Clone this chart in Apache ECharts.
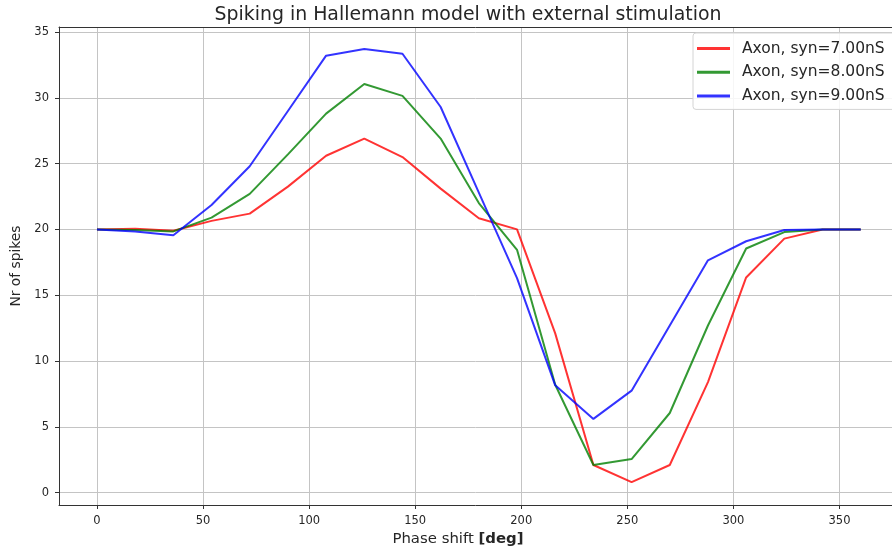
<!DOCTYPE html>
<html>
<head>
<meta charset="utf-8">
<script src="https://cdn.jsdelivr.net/npm/echarts@6/dist/echarts.min.js"></script>
<style>
  html, body { margin: 0; padding: 0; background: #ffffff; }
  #chart { width: 892px; height: 552px; }
</style>
</head>
<body>
<div id="chart"></div>
<script>
// Phase shift of the stimulation (deg)
const phaseShift = [0, 18, 36, 54, 72, 90, 108, 126, 144, 162, 180, 198, 216, 234, 252, 270, 288, 306, 324, 342, 360];

// Number of spikes for each synaptic conductance
const spikesSyn7 = [20.0, 20.05, 19.9, 20.65, 21.2, 23.25, 25.6, 26.9, 25.5, 23.1, 20.85, 20.0, 12.1, 2.1, 0.8, 2.1, 8.4, 16.35, 19.3, 20.0, 20.0];
const spikesSyn8 = [20.0, 19.95, 19.85, 20.9, 22.7, 25.7, 28.8, 31.05, 30.15, 26.9, 22.0, 18.45, 8.2, 2.1, 2.55, 6.05, 12.7, 18.55, 19.8, 20.0, 20.0];
const spikesSyn9 = [20.0, 19.85, 19.55, 21.85, 24.8, 29.0, 33.2, 33.7, 33.35, 29.3, 22.8, 16.3, 8.15, 5.6, 7.75, 12.7, 17.65, 19.1, 19.95, 20.0, 20.0];

const seriesNames = ['Axon, syn=7.00nS', 'Axon, syn=8.00nS', 'Axon, syn=9.00nS'];

// Tick positions
const xTicks = [0, 50, 100, 150, 200, 250, 300, 350];
const yTicks = [0, 5, 10, 15, 20, 25, 30, 35];

const FONT = 'DejaVu Sans';
const TEXT = '#262626';
const GRID = '#c4c4c4';
const SPINE = '#333333';

function pairs(ys) {
  return phaseShift.map((x, i) => [x, ys[i]]);
}

const chart = echarts.init(document.getElementById('chart'), null, { renderer: 'canvas' });

chart.setOption({
  animation: false,
  backgroundColor: '#ffffff',
  textStyle: { fontFamily: FONT },
  title: {
    text: 'Spiking in Hallemann model with external stimulation',
    left: 468,
    top: 6,
    textAlign: 'center',
    padding: 0,
    textStyle: { fontFamily: FONT, fontSize: 18.9, fontWeight: 'normal', color: TEXT }
  },
  grid: {
    left: 59,
    top: 27,
    width: 833,
    height: 478,
    show: false
  },
  legend: {
    orient: 'vertical',
    left: 693,
    top: 33,
    padding: [7.5, 14, 5.5, 4],
    backgroundColor: 'rgba(255,255,255,0.85)',
    borderColor: '#d4d4d4',
    borderWidth: 1,
    borderRadius: 3,
    itemWidth: 33,
    itemHeight: 3,
    itemGap: 7.7,
    icon: 'rect',
    data: seriesNames,
    textStyle: { fontFamily: FONT, fontSize: 15.5, color: TEXT, lineHeight: 16, padding: [0, 0, 0, 7] }
  },
  xAxis: [
    {
      type: 'value',
      min: -17.9,
      max: 374.75,
      name: 'Phase shift {b|[deg]}',
      nameLocation: 'middle',
      nameGap: 25,
      nameTextStyle: {
        fontFamily: FONT, fontSize: 14.9, color: TEXT, padding: [0, 35, 0, 0],
        rich: { b: { fontFamily: FONT, fontSize: 14.9, fontWeight: 'bold', color: TEXT } }
      },
      axisLine: { show: true, onZero: false, lineStyle: { color: SPINE, width: 1 } },
      axisTick: { show: true, length: 4, inside: false, customValues: xTicks, lineStyle: { color: SPINE } },
      axisLabel: { customValues: xTicks, margin: 10, fontFamily: FONT, fontSize: 11.5, color: TEXT },
      splitLine: { show: true, lineStyle: { color: GRID, width: 1 } }
    },
    {
      // top spine of the frame
      type: 'value',
      position: 'top',
      min: -17.9,
      max: 374.75,
      axisLine: { show: true, onZero: false, lineStyle: { color: SPINE, width: 1 } },
      axisTick: { show: false },
      axisLabel: { show: false },
      splitLine: { show: false }
    }
  ],
  yAxis: {
    type: 'value',
    min: -0.94,
    max: 35.38,
    name: 'Nr of spikes',
    nameLocation: 'middle',
    nameGap: 29,
    nameTextStyle: { fontFamily: FONT, fontSize: 13.8, color: TEXT },
    axisLine: { show: true, onZero: false, lineStyle: { color: SPINE, width: 1 } },
    axisTick: { show: true, length: 4, inside: false, customValues: yTicks, lineStyle: { color: SPINE } },
    axisLabel: { customValues: yTicks, margin: 10, fontFamily: FONT, fontSize: 11.5, color: TEXT },
    splitLine: { show: true, lineStyle: { color: GRID, width: 1 } }
  },
  series: [
    { name: seriesNames[0], type: 'line', data: pairs(spikesSyn7), color: 'rgba(255,0,0,0.8)', showSymbol: false, symbol: 'none', lineStyle: { width: 2 } },
    { name: seriesNames[1], type: 'line', data: pairs(spikesSyn8), color: 'rgba(0,128,0,0.8)', showSymbol: false, symbol: 'none', lineStyle: { width: 2 } },
    { name: seriesNames[2], type: 'line', data: pairs(spikesSyn9), color: 'rgba(0,0,255,0.8)', showSymbol: false, symbol: 'none', lineStyle: { width: 2 } }
  ]
});
</script>
</body>
</html>
